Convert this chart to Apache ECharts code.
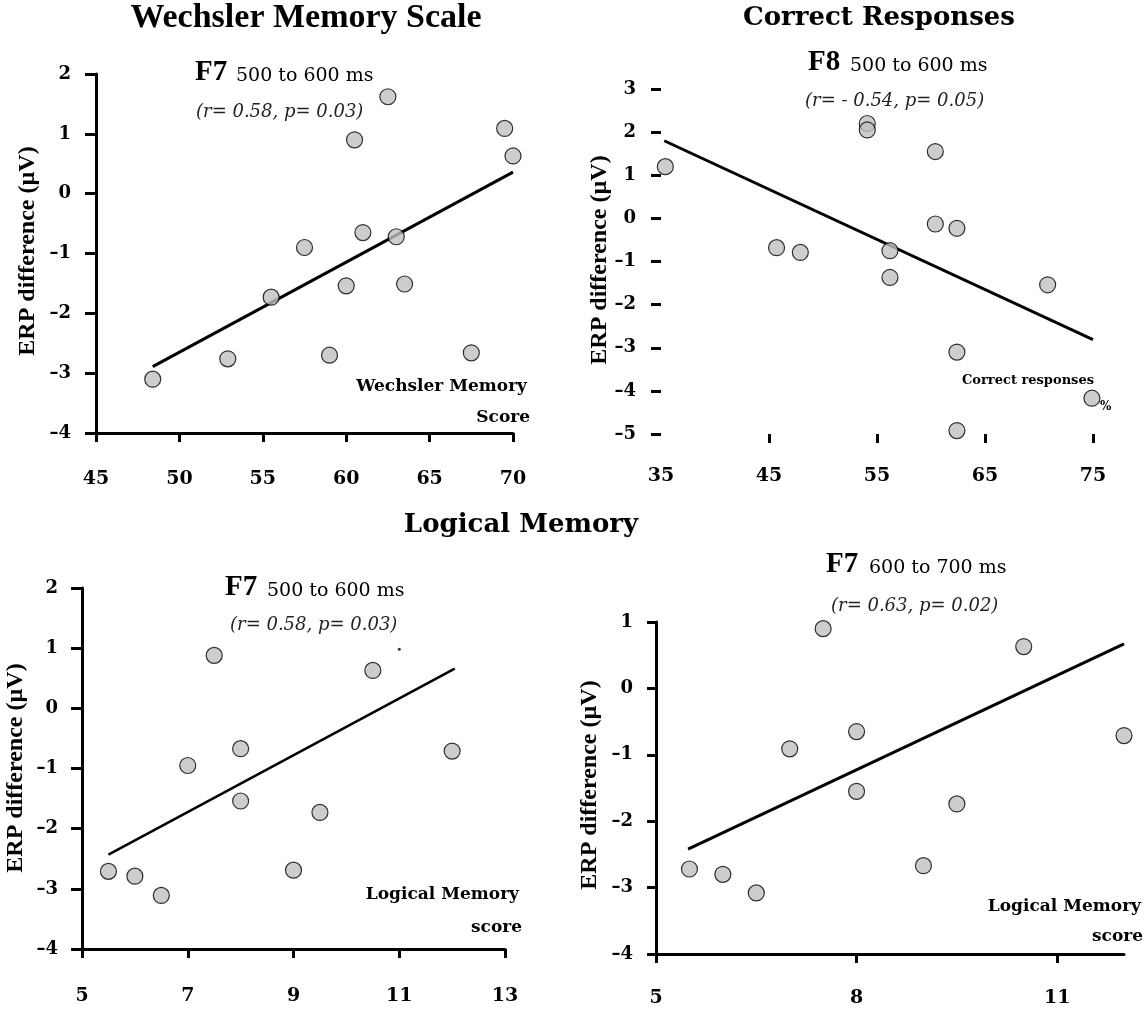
<!DOCTYPE html>
<html>
<head>
<meta charset="utf-8">
<script src="https://cdn.jsdelivr.net/npm/echarts@6/dist/echarts.min.js"></script>
<style>
  html, body { margin: 0; padding: 0; background: #fff; }
  #chart { width: 1144px; height: 1013px; }
</style>
</head>
<body>
<div id="chart"></div>
<script>
// ---- Wechsler Memory Scale vs ERP difference at F7, 500–600 ms ----
const wmsScore = [48.4, 52.9, 55.5, 57.5, 59.0, 60.0, 60.5, 61.0, 62.5, 63.0, 63.5, 67.5, 69.5, 70.0];
const wmsErp   = [-3.10, -2.76, -1.73, -0.90, -2.70, -1.54, 0.90, -0.65, 1.62, -0.72, -1.51, -2.66, 1.09, 0.63];
const wmsFitX  = [48.4, 70.0];
const wmsFitY  = [-2.89, 0.36];
const wmsXTicks = [45, 50, 55, 60, 65, 70];
const wmsYTicks = [-4, -3, -2, -1, 0, 1, 2];

// ---- Correct responses (%) vs ERP difference at F8, 500–600 ms ----
const crPercent = [35.4, 45.7, 47.9, 54.1, 54.1, 56.2, 56.2, 60.4, 60.4, 62.4, 62.4, 62.4, 70.8, 74.9];
const crErp     = [1.20, -0.68, -0.79, 2.20, 2.05, -0.75, -1.37, 1.55, -0.13, -0.23, -3.10, -4.92, -1.54, -4.17];
const crFitX    = [35.3, 75.0];
const crFitY    = [1.80, -2.81];
const crXTicks  = [35, 45, 55, 65, 75];
const crXTickMarks = [45, 55, 65, 75];
const crYTicks  = [-5, -4, -3, -2, -1, 0, 1, 2, 3];

// ---- Logical Memory score vs ERP difference at F7 ----
const lmScore   = [5.5, 6.0, 6.5, 7.0, 7.5, 8.0, 8.0, 9.0, 9.5, 10.5, 12.0];
const lmErp500  = [-2.71, -2.79, -3.11, -0.95, 0.88, -0.67, -1.54, -2.69, -1.73, 0.63, -0.71];
const lmFit500X = [5.5, 12.05];
const lmFit500Y = [-2.43, 0.66];
const lmStrayX  = [11.0];
const lmStrayY  = [0.98];
const lm500XTicks = [5, 7, 9, 11, 13];
const lm500YTicks = [-4, -3, -2, -1, 0, 1, 2];

const lmErp600  = [-2.72, -2.80, -3.08, -0.91, 0.90, -0.65, -1.55, -2.67, -1.74, 0.63, -0.71];
const lmFit600X = [5.48, 12.0];
const lmFit600Y = [-2.42, 0.67];
const lm600XTicks = [5, 8, 11];
const lm600XMax = 12;
const lm600YTicks = [-4, -3, -2, -1, 0, 1];

const zip = (xs, ys) => xs.map((x, i) => [x, ys[i]]);
const SERIF = '"Liberation Serif", "Times New Roman", serif';
const WIDE  = '"DejaVu Serif", serif';
const fmt = v => (v < 0 ? '\u2013' + Math.abs(v) : String(v));

function xAxis(gi, labels, tickVals, max, margin, showLine) {
  return {
    type: 'value', gridIndex: gi, min: labels[0], max: max,
    axisLine: { show: showLine, onZero: false, lineStyle: { color: '#000', width: 3 } },
    axisTick: { show: true, length: 9, customValues: tickVals, lineStyle: { color: '#000', width: 3 } },
    axisLabel: { customValues: labels, margin: margin, color: '#000', fontFamily: WIDE,
                 fontWeight: 'bold', fontSize: 19, formatter: fmt },
    splitLine: { show: false }
  };
}
function yAxis(gi, ticks, margin, tickLen, showLine) {
  return {
    type: 'value', gridIndex: gi, min: ticks[0], max: ticks[ticks.length - 1],
    axisLine: { show: showLine, onZero: false, lineStyle: { color: '#000', width: 3 } },
    axisTick: { show: true, length: tickLen, customValues: ticks, lineStyle: { color: '#000', width: 3 } },
    axisLabel: { customValues: ticks, margin: margin, color: '#000', fontFamily: WIDE,
                 fontWeight: 'bold', fontSize: 18, formatter: fmt },
    splitLine: { show: false }
  };
}
const dot = { color: '#c0c0c0', borderColor: '#000', borderWidth: 1.2 };
function scatter(gi, xs, ys) {
  return { type: 'scatter', xAxisIndex: gi, yAxisIndex: gi, data: zip(xs, ys),
           symbol: 'circle', symbolSize: 16, itemStyle: dot, z: 3 };
}
function fit(gi, xs, ys, w) {
  return { type: 'line', xAxisIndex: gi, yAxisIndex: gi, data: zip(xs, ys),
           showSymbol: false, lineStyle: { color: '#000', width: w }, z: 2, silent: true };
}

function txt(text, x, y, font, align, color) {
  return { type: 'text', x: x, y: y, silent: true,
           style: { text: text, font: font, fill: color || '#000',
                    textAlign: align || 'left', textVerticalAlign: 'middle' } };
}
function vtxt(text, x, y) {
  return { type: 'text', x: x, y: y, rotation: Math.PI / 2, silent: true,
           style: { text: text, font: 'bold 24px ' + SERIF, fill: '#000',
                    textAlign: 'center', textVerticalAlign: 'middle' } };
}
const big = 'bold 29px ' + SERIF;
const win = '19px ' + WIDE;
const ita = 'italic 18px ' + WIDE;
const lbl = 'bold 17px ' + WIDE;

const chart = echarts.init(document.getElementById('chart'), null, { renderer: 'canvas' });
chart.setOption({
  animation: false,
  backgroundColor: '#fff',
  grid: [
    { left: 96,  top: 74,  width: 417, height: 359 },
    { left: 661, top: 89,  width: 432, height: 345 },
    { left: 82,  top: 588, width: 423, height: 361 },
    { left: 656, top: 622, width: 468, height: 332 }
  ],
  xAxis: [
    xAxis(0, wmsXTicks, wmsXTicks, wmsXTicks[wmsXTicks.length - 1], 37, true),
    xAxis(1, crXTicks, crXTickMarks, crXTicks[crXTicks.length - 1], 33, false),
    xAxis(2, lm500XTicks, lm500XTicks, lm500XTicks[lm500XTicks.length - 1], 38, true),
    xAxis(3, lm600XTicks, lm600XTicks, lm600XMax, 35, true)
  ],
  yAxis: [
    yAxis(0, wmsYTicks, 25, 11, true),
    yAxis(1, crYTicks, 25, 10, false),
    yAxis(2, lm500YTicks, 24, 11, true),
    yAxis(3, lm600YTicks, 23, 9, true)
  ],
  series: [
    fit(0, wmsFitX, wmsFitY, 3), scatter(0, wmsScore, wmsErp),
    fit(1, crFitX, crFitY, 3), scatter(1, crPercent, crErp),
    fit(2, lmFit500X, lmFit500Y, 2.5), scatter(2, lmScore, lmErp500),
    { type: 'scatter', xAxisIndex: 2, yAxisIndex: 2, data: zip(lmStrayX, lmStrayY),
      symbol: 'circle', symbolSize: 3, itemStyle: { color: '#000' } },
    fit(3, lmFit600X, lmFit600Y, 3), scatter(3, lmScore, lmErp600)
  ],
  graphic: [
    // section headings
    txt('Wechsler Memory Scale', 306, 18, 'bold 34px ' + SERIF, 'center'),
    txt('Correct Responses', 879, 18, 'bold 26px ' + WIDE, 'center'),
    txt('Logical Memory', 521, 525, 'bold 26px ' + WIDE, 'center'),

    // panel 1
    txt('F7', 195, 73, big),
    txt('500 to 600 ms', 236, 76, win),
    txt('(r= 0.58, p= 0.03)', 196, 112, ita, 'left', '#222'),
    txt('Wechsler Memory', 527, 387, lbl, 'right'),
    txt('Score', 530, 418, lbl, 'right'),
    vtxt('ERP difference (\u00b5V)', 28, 251),

    // panel 2
    txt('F8', 808, 63, big),
    txt('500 to 600 ms', 850, 66, win),
    txt('(r= - 0.54, p= 0.05)', 805, 101, ita, 'left', '#222'),
    txt('Correct responses', 962, 381, 'bold 13px ' + WIDE),
    txt('%', 1100, 407, 'bold 12px ' + WIDE),
    vtxt('ERP difference (\u00b5V)', 600, 260),

    // panel 3
    txt('F7', 225, 588, big),
    txt('500 to 600 ms', 267, 591, win),
    txt('(r= 0.58, p= 0.03)', 230, 625, ita, 'left', '#222'),
    txt('Logical Memory', 519, 895, lbl, 'right'),
    txt('score', 522, 928, lbl, 'right'),
    vtxt('ERP difference (\u00b5V)', 16, 768),

    // panel 4
    txt('F7', 826, 565, big),
    txt('600 to 700 ms', 869, 568, win),
    txt('(r= 0.63, p= 0.02)', 831, 606, ita, 'left', '#222'),
    txt('Logical Memory', 1141, 907, lbl, 'right'),
    txt('score', 1143, 937, lbl, 'right'),
    vtxt('ERP difference (\u00b5V)', 590, 785)
  ]
});
</script>
</body>
</html>
